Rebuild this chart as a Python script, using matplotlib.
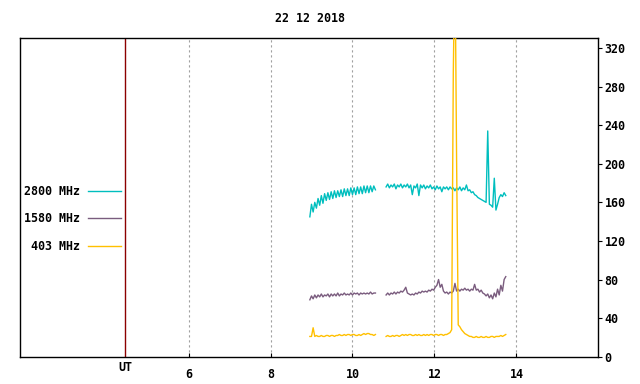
import matplotlib
matplotlib.use("Agg")
import matplotlib.pyplot as plt
import numpy as np

title = "22 12 2018"

# sampling: two runs of readings, 0.04 h apart, with a gap between them
t_start_a, t_start_b, t_step = 8.96, 10.82, 0.04

# 2800 MHz
f2800_a = [145, 158, 150, 160, 154, 164, 157, 167, 159, 169, 162, 170, 163, 171,
           164, 172, 165, 172, 166, 173, 166, 174, 167, 174, 167, 175, 168, 175,
           168, 176, 169, 176, 169, 177, 170, 177, 170, 177, 171, 177, 173]
f2800_b = [176, 179, 175, 178, 176, 179, 174, 178, 176, 179, 175, 178, 176, 179,
           175, 178, 168, 177, 175, 179, 167, 178, 175, 178, 174, 177, 175, 178,
           174, 176, 173, 177, 174, 176, 171, 176, 174, 176, 173, 176, 174, 175,
           172, 175, 173, 176, 172, 175, 173, 178, 172, 173, 170, 171, 168, 167,
           165, 164, 163, 162, 161, 160, 234, 158, 157, 155, 185, 152, 158, 165,
           168, 166, 170, 167]

# 1580 MHz
f1580_a = [59, 63, 60, 64, 61, 64, 62, 65, 62, 64, 63, 65, 62, 65, 63, 65, 63,
           66, 63, 65, 64, 66, 64, 65, 64, 66, 64, 66, 65, 66, 64, 66, 65, 66,
           65, 66, 65, 67, 65, 66, 66]
f1580_b = [64, 66, 64, 66, 65, 67, 65, 67, 66, 68, 67, 69, 72, 66, 65, 64, 65,
           64, 66, 65, 67, 66, 68, 67, 68, 67, 69, 68, 70, 69, 72, 74, 80, 72,
           75, 68, 66, 67, 65, 67, 66, 68, 76, 68, 70, 68, 70, 69, 71, 69, 70,
           68, 70, 69, 75, 69, 70, 67, 69, 66, 65, 63, 65, 61, 64, 60, 66, 62,
           70, 64, 74, 68, 80, 83]

# 403 MHz
f403_a = [21, 21, 30, 21, 22, 21, 21, 22, 21, 21, 22, 22, 21, 22, 22, 21, 22,
          22, 23, 22, 22, 23, 22, 23, 23, 22, 23, 23, 22, 22, 23, 22, 23, 24,
          23, 24, 24, 23, 23, 22, 23]
f403_b = [21, 22, 21, 21, 22, 21, 22, 22, 21, 22, 23, 22, 23, 22, 23, 23, 22,
          22, 23, 22, 23, 22, 22, 23, 22, 23, 22, 23, 23, 22, 23, 23, 22, 23,
          23, 22, 23, 23, 24, 25, 28, 295, 420, 205, 33, 31, 28, 26, 24, 23,
          22, 21, 21, 20, 20, 21, 20, 20, 21, 20, 20, 21, 20, 20, 21, 21, 20,
          21, 21, 21, 22, 21, 22, 23]

series = [
    ("2800 MHz", "#00bebe", f2800_a, f2800_b),
    ("1580 MHz", "#7a5c7e", f1580_a, f1580_b),
    ("403 MHz", "#ffc000", f403_a, f403_b),
]

x_ticks = [6, 8, 10, 12, 14]
y_ticks = [0, 40, 80, 120, 160, 200, 240, 280, 320]
ut_pos = 4.46

plt.rcParams["font.family"] = "DejaVu Sans Mono"
plt.rcParams["font.weight"] = "bold"
plt.rcParams["font.size"] = 8.4

fig = plt.figure(figsize=(6.4, 3.84), dpi=100)
ax = fig.add_axes([0.032, 0.0711, 0.903, 0.829])

for xt in x_ticks:
    ax.axvline(xt, color="#a0a0a0", lw=0.8, ls=(0, (2, 2.5)), zorder=1)
ax.axvline(ut_pos, color="#8c0000", lw=1.0, zorder=1)

for label, color, va, vb in series:
    ta = t_start_a + t_step * np.arange(len(va))
    tb = t_start_b + t_step * np.arange(len(vb))
    ax.plot(ta, va, color=color, lw=1.0, label=label, zorder=3)
    ax.plot(tb, vb, color=color, lw=1.0, zorder=3)

ax.set_xlim(1.9, 16.0)
ax.set_ylim(0, 330)

ax.set_xticks(x_ticks)
ax.tick_params(axis="x", direction="in", length=3, width=0.8, pad=8)
ax.yaxis.tick_right()
ax.set_yticks(y_ticks)
ax.tick_params(axis="y", direction="out", length=3, width=0.8, pad=1.5)
for sp in ax.spines.values():
    sp.set_linewidth(1.0)

ax.annotate("UT", xy=(ut_pos, 0), xycoords=("data", "axes fraction"),
            xytext=(0, -7.8), textcoords="offset points",
            ha="center", va="center")

leg = ax.legend(loc="center right", bbox_to_anchor=(0.189, 0.4297),
                bbox_transform=fig.transFigure, frameon=False,
                markerfirst=False, handlelength=2.83, handletextpad=0.69,
                labelspacing=1.23, borderpad=0, borderaxespad=0)
for t in leg.get_texts():
    t.set_ha("right")

fig.text(0.484, 0.953, title, ha="center", va="center")

fig.savefig("out.png", dpi=100)
